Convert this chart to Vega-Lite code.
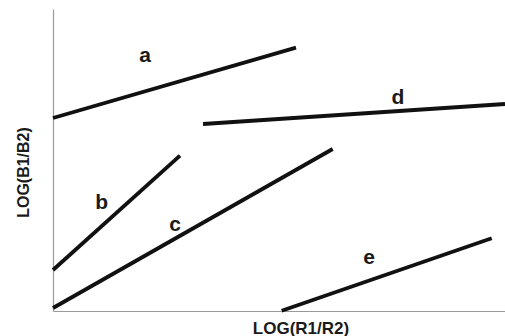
{
  "$schema": "https://vega.github.io/schema/vega-lite/v6.json",
  "width": 452,
  "height": 302,
  "autosize": "none",
  "padding": {"left": 53, "top": 9, "right": 0, "bottom": 25},
  "config": {"view": {"stroke": null}, "font": "Liberation Sans"},
  "datasets": {
    "lines": [
      {"series": "a", "x": 0, "y": 193},
      {"series": "a", "x": 243, "y": 263.3},
      {"series": "b", "x": 0, "y": 41},
      {"series": "b", "x": 127, "y": 155.3},
      {"series": "c", "x": 0, "y": 3},
      {"series": "c", "x": 279.7, "y": 162},
      {"series": "d", "x": 150, "y": 187},
      {"series": "d", "x": 452, "y": 207},
      {"series": "e", "x": 228.7, "y": 0.3},
      {"series": "e", "x": 438.7, "y": 72.7}
    ],
    "labels": [
      {"label": "a", "x": 92, "y": 249.3},
      {"label": "b", "x": 48.7, "y": 101.7},
      {"label": "c", "x": 122, "y": 80.3},
      {"label": "d", "x": 345, "y": 207},
      {"label": "e", "x": 316, "y": 46.7}
    ]
  },
  "layer": [
    {
      "data": {"name": "lines"},
      "mark": {"type": "line", "color": "#111111", "strokeWidth": 3.8, "strokeCap": "butt"},
      "encoding": {
        "x": {
          "field": "x", "type": "quantitative",
          "scale": {"domain": [0, 452], "nice": false, "zero": false},
          "axis": {
            "title": "LOG(R1/R2)", "domainColor": "#9a9a9a", "domainWidth": 1.2,
            "ticks": false, "labels": false, "grid": false,
            "titleFontSize": 17, "titleFontWeight": "bold", "titleColor": "#1a1a1a",
            "titleX": 247.5, "titleY": 22, "titleBaseline": "alphabetic", "titleAlign": "center"
          }
        },
        "y": {
          "field": "y", "type": "quantitative",
          "scale": {"domain": [0, 302], "nice": false, "zero": false},
          "axis": {
            "title": "LOG(B1/B2)", "domainColor": "#9a9a9a", "domainWidth": 1.2,
            "ticks": false, "labels": false, "grid": false,
            "titleFontSize": 16, "titleFontWeight": "bold", "titleColor": "#1a1a1a",
            "titleAngle": 270, "titleX": -25, "titleY": 163,
            "titleBaseline": "alphabetic", "titleAlign": "center"
          }
        },
        "detail": {"field": "series", "type": "nominal"}
      }
    },
    {
      "data": {"name": "labels"},
      "mark": {"type": "text", "fontSize": 21, "fontWeight": "bold", "color": "#1a1a1a", "align": "center", "baseline": "alphabetic"},
      "encoding": {
        "x": {"field": "x", "type": "quantitative"},
        "y": {"field": "y", "type": "quantitative"},
        "text": {"field": "label", "type": "nominal"}
      }
    }
  ]
}
